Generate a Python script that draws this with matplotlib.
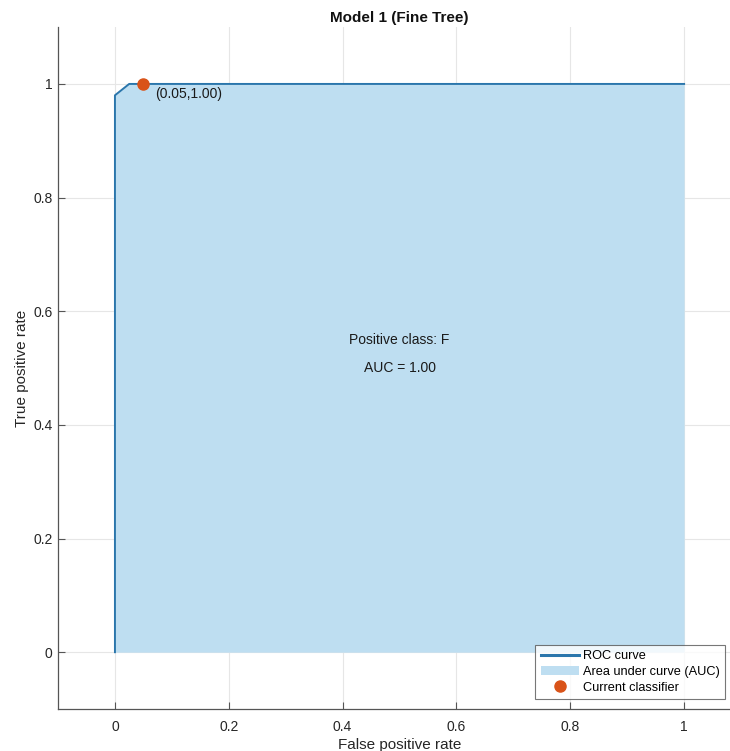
import matplotlib
matplotlib.use("Agg")
import matplotlib.pyplot as plt
from matplotlib.lines import Line2D
from matplotlib.patches import Patch

plt.rcParams['font.family'] = ['Liberation Sans', 'DejaVu Sans']

# ROC curve for the fine tree model
fpr = [0.0, 0.0, 0.025, 1.0]
tpr = [0.0, 0.98, 1.0, 1.0]
# operating point of the current classifier
op_fpr = 0.05
op_tpr = 1.00
auc = 1.00
positive_class = "F"

xticks = [0, 0.2, 0.4, 0.6, 0.8, 1]
yticks = [0, 0.2, 0.4, 0.6, 0.8, 1]
xtick_labels = ["0", "0.2", "0.4", "0.6", "0.8", "1"]
ytick_labels = ["0", "0.2", "0.4", "0.6", "0.8", "1"]

line_color = "#2A76AC"
fill_color = "#BEDEF1"
point_color = "#D95319"

fig = plt.figure(figsize=(7.30, 7.51), dpi=100)
ax = fig.add_axes([0.0795, 0.0559, 0.9356, 0.908])

ax.fill_between(fpr, tpr, 0, color=fill_color, linewidth=0, zorder=2)
ax.plot(fpr, tpr, color=line_color, linewidth=1.4, zorder=3)
ax.plot([op_fpr], [op_tpr], 'o', color=point_color, markersize=8, zorder=4)
ax.text(op_fpr + 0.02, op_tpr - 0.005, f"({op_fpr:.2f},{op_tpr:.2f})",
        ha='left', va='top', fontsize=10, color='#1a1a1a', zorder=5)

ax.text(0.5, 0.55, f"Positive class: {positive_class}", ha='center', va='center',
        fontsize=10, color='#1a1a1a', zorder=5)
ax.text(0.5, 0.50, f"AUC = {auc:.2f}", ha='center', va='center',
        fontsize=10, color='#1a1a1a', zorder=5)

ax.set_xlim(-0.1, 1.1)
ax.set_ylim(-0.1, 1.1)
ax.set_xticks(xticks)
ax.set_xticklabels(xtick_labels)
ax.set_yticks(yticks)
ax.set_yticklabels(ytick_labels)
ax.grid(True, color='#e6e6e6', linewidth=0.8, zorder=0)
ax.set_axisbelow(True)

for side in ('top', 'right'):
    ax.spines[side].set_visible(False)
for side in ('left', 'bottom'):
    ax.spines[side].set_color('#555555')
    ax.spines[side].set_linewidth(0.9)
ax.tick_params(direction='in', length=5, width=0.8, color='#555555',
               labelsize=10, labelcolor='#262626')
ax.tick_params(axis='y', pad=4)
ax.tick_params(axis='x', pad=8)

ax.set_xlabel("False positive rate", fontsize=11, color='#262626', labelpad=3)
ax.set_ylabel("True positive rate", fontsize=11, color='#262626', labelpad=3)
ax.set_title("Model 1 (Fine Tree)", fontsize=11, fontweight='bold', color='#111111', pad=4)

handles = [
    Line2D([0], [0], color=line_color, linewidth=2.2),
    Patch(facecolor=fill_color, edgecolor='none'),
    Line2D([0], [0], marker='o', linestyle='none', color=point_color, markersize=8),
]
labels = ["ROC curve", "Area under curve (AUC)", "Current classifier"]
leg = ax.legend(handles, labels, loc='lower right', bbox_to_anchor=(0.977, 0.0147),
                fontsize=9.2, frameon=True, fancybox=False, borderpad=0.4,
                labelspacing=0.3, handlelength=3.0, handletextpad=0.35,
                borderaxespad=0)
leg.get_frame().set_edgecolor('#555555')
leg.get_frame().set_linewidth(0.8)

fig.savefig("out.png", dpi=100)
